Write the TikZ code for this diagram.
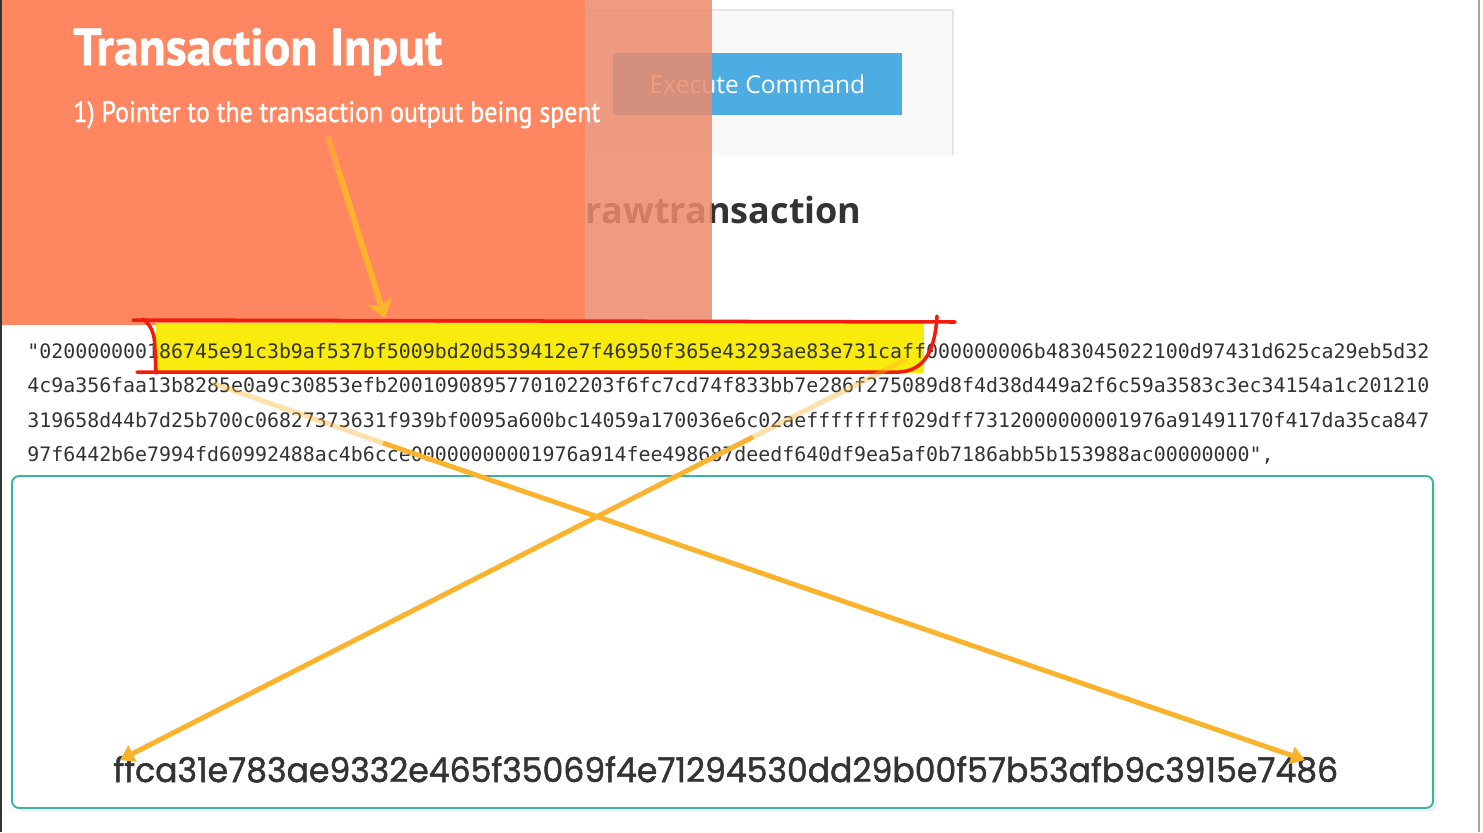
\documentclass[tikz,border=0pt]{standalone}
\usepackage{fontspec}
\usepackage{graphicx}
\usetikzlibrary{arrows.meta,shadows}
\newfontfamily\slidefont[FakeBold=1.2]{PT Sans}
\newfontfamily\hexfont{DejaVu Sans Mono}
\newfontfamily\webfont{Open Sans}
\newfontfamily\hashfont[FakeBold=1.4]{Poppins}
\definecolor{ccoral}{HTML}{FE8762}
\definecolor{ccoralfade}{HTML}{EC8A6C}
\definecolor{camber}{HTML}{FBB22C}
\definecolor{cyellow}{HTML}{F9EC0C}
\definecolor{cred}{HTML}{F31C0C}
\definecolor{cteal}{HTML}{3AB3A3}
\definecolor{cblue}{HTML}{4DADE3}
\definecolor{cpanel}{HTML}{F8F8F8}
\definecolor{cline}{HTML}{E4E4E4}
\definecolor{cink}{HTML}{333333}

\begin{document}
\begin{tikzpicture}[x=0.02cm, y=-0.02cm,
  hexline/.style={anchor=base west, inner sep=0pt, text=cink,
                  font=\hexfont\fontsize{11.33}{13}\selectfont},
  slidetext/.style={anchor=base west, inner sep=0pt, text=white},
  redmark/.style={cred, line width=2pt, line cap=round},
  pointer/.style={camber, line width=2.8pt,
                  -{Triangle[length=8pt,width=10pt]}},
  fadein/.style={camber, line width=2.8pt, opacity=0.4, line cap=round},
  outbox/.style={draw=cteal, line width=1.1pt, fill=white, rounded corners=4pt,
                 drop shadow={shadow xshift=2pt, shadow yshift=-2pt, opacity=0.12}}
]
\useasboundingbox (0,0) rectangle (1483,832);
\fill[white] (0,0) rectangle (1483,832);

% web page behind the slide
\fill[cpanel] (560,10) rectangle (953,155);
\draw[cline, line width=0.6pt] (560,10) -- (953,10) -- (953,155);
\node[fill=cblue, text=white, minimum width=5.78cm, minimum height=1.24cm,
      font=\webfont\fontsize{14}{16}\selectfont] (btn) at (757.5,84) {Execute Command};
\node[anchor=base east, inner sep=0pt, text=cink,
      font=\webfont\bfseries\fontsize{20.5}{24}\selectfont] (heading) at (862,223) {rawtransaction};

% slide panel
\fill[ccoral] (0,0) rectangle (585,325);
\fill[ccoralfade, opacity=0.85] (585,0) rectangle (712,325);
\node[slidetext] (title) at (73,65)
  {\resizebox{7.38cm}{0.74cm}{\slidefont\bfseries Transaction Input}};
\node[slidetext] (subtitle) at (73,122)
  {\resizebox{10.54cm}{0.42cm}{\slidefont 1) Pointer to the transaction output being spent}};

% raw transaction
\fill[cyellow] (156,323) rectangle (924,373);
\node[hexline] (hexA) at (27,358) {"020000000186745e91c3b9af537bf5009bd20d539412e7f46950f365e43293ae83e731caff000000006b483045022100d97431d625ca29eb5d32};
\node[hexline] (hexB) at (27,392.5) {4c9a356faa13b8285e0a9c30853efb2001090895770102203f6fc7cd74f833bb7e286f275089d8f4d38d449a2f6c59a3583c3ec34154a1c201210};
\node[hexline] (hexC) at (27,427) {319658d44b7d25b700c06827373631f939bf0095a600bc14059a170036e6c02aeffffffff029dff7312000000001976a91491170f417da35ca847};
\node[hexline] (hexD) at (27,461.5) {97f6442b6e7994fd60992488ac4b6cce00000000001976a914fee498687deedf640df9ea5af0b7186abb5b153988ac00000000",};

\draw[redmark] (133,320) -- (955,322);
\draw[redmark] (143,319) .. controls (152,326) and (155,335) .. (155,350) -- (156,373);
\draw[redmark] (137,372) -- (900,372) .. controls (925,370) and (935,350) .. (937,316);

% reversed txid
\draw[outbox] (12,476) rectangle (1433,808);
\node[anchor=base west, inner sep=0pt, text=cink] (txid) at (113,782)
  {\resizebox{24.5cm}{0.52cm}{\hashfont ffca31e783ae9332e465f35069f4e71294530dd29b00f57b53afb9c3915e7486}};

% arrows
\coordinate (ptrtail) at (328,137);
\coordinate (ptrmid) at (338.4,170);
\coordinate (ptrhead) at (385,318);
\draw[camber, line width=3.4pt, opacity=0.7] (ptrtail) -- (ptrmid);
\draw[camber, line width=3.4pt, -{Stealth[length=10pt,width=15pt,inset=2.5pt]}] (ptrmid) -- (ptrhead);

\coordinate (tailA) at (215,384);
\coordinate (fadeA) at (383,443);
\coordinate (headA) at (1305,760);
\coordinate (tailB) at (905,360);
\coordinate (fadeB) at (753,437);
\coordinate (headB) at (120,760);
\draw[fadein] (tailA) -- (fadeA);
\draw[fadein] (tailB) -- (fadeB);
\draw[pointer] (fadeA) -- (headA);
\draw[pointer] (fadeB) -- (headB);

% frame edges
\draw[black!80, line width=1pt] (0.8,0) -- (0.8,832);
\draw[gray!70, line width=1pt] (1479,0) -- (1479,832);
\end{tikzpicture}
\end{document}
